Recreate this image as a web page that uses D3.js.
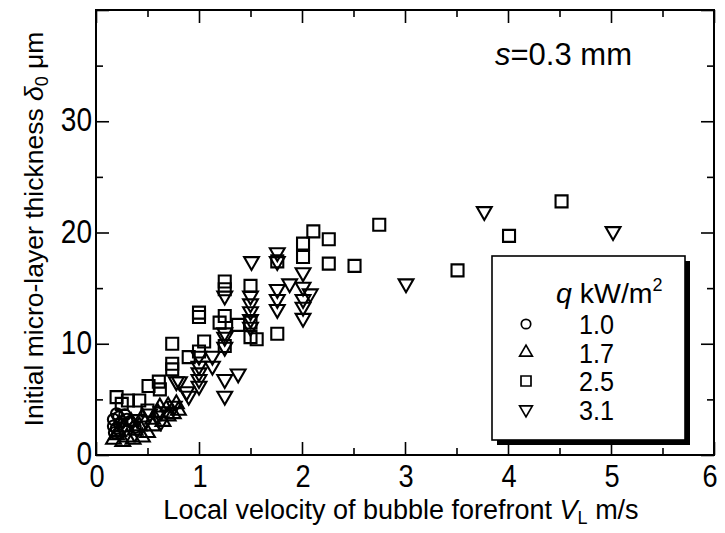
<!DOCTYPE html>
<html>
<head>
<meta charset="utf-8">
<script src="https://cdn.jsdelivr.net/npm/d3@7"></script>
<style>
  html, body { margin: 0; padding: 0; background: #fff; }
  svg { display: block; }
  text { font-family: "Liberation Sans", Arial, sans-serif; fill: #000; }
</style>
</head>
<body>
<svg id="chart" width="725" height="533"></svg>
<script>
// Heat flux series: local velocity of bubble forefront (m/s) vs initial micro-layer thickness (µm)
const q10_v = [0.17, 0.20, 0.22, 0.25, 0.17, 0.20, 0.28, 0.30, 0.18, 0.23, 0.33, 0.38];
const q10_d = [3.2, 3.7, 3.4, 3.0, 2.6, 2.4, 3.6, 3.2, 2.0, 2.8, 3.0, 2.5];

const q17_v = [0.17, 0.20, 0.22, 0.26, 0.30, 0.34, 0.38, 0.42, 0.45, 0.50, 0.55, 0.60, 0.65, 0.70, 0.75, 0.78, 0.80, 0.28, 0.36, 0.45, 0.55, 0.62, 0.70];
const q17_d = [1.4, 1.8, 2.1, 1.2, 1.6, 3.0, 2.2, 2.6, 3.4, 2.0, 3.2, 3.8, 3.0, 4.4, 3.7, 4.6, 4.0, 2.5, 1.4, 1.6, 2.6, 4.3, 3.5];

const q25_v = [0.20, 0.31, 0.42, 0.51, 0.61, 0.62, 0.74, 0.74, 0.74, 1.00, 1.00, 1.00, 1.05, 1.20, 1.25, 1.25, 1.25, 1.25, 1.38, 1.50, 1.50, 1.50, 1.56, 1.76, 1.76, 2.01, 2.01, 2.11, 2.26, 2.26, 2.51, 2.75, 3.51, 4.01, 4.52, 0.25, 0.50, 0.90];
const q25_d = [5.2, 4.9, 4.9, 6.2, 6.6, 5.9, 10.0, 8.2, 7.7, 12.8, 12.4, 9.3, 10.2, 11.9, 15.6, 14.9, 12.5, 9.8, 11.7, 15.2, 11.9, 10.6, 10.4, 17.4, 10.9, 19.0, 17.8, 20.1, 19.4, 17.2, 17.0, 20.7, 16.6, 19.7, 22.8, 4.6, 4.0, 8.8];

const q31_v = [0.52, 0.63, 0.63, 0.76, 0.78, 0.81, 0.88, 1.00, 1.00, 1.00, 1.00, 1.00, 1.13, 1.13, 1.25, 1.25, 1.25, 1.25, 1.25, 1.25, 1.38, 1.51, 1.50, 1.50, 1.50, 1.50, 1.50, 1.76, 1.76, 1.76, 1.76, 1.76, 1.88, 2.01, 2.01, 2.01, 2.01, 2.01, 2.08, 3.01, 3.77, 5.02, 0.40, 0.90];
const q31_d = [3.7, 3.9, 3.0, 4.4, 6.6, 6.6, 5.7, 8.9, 8.0, 7.4, 6.8, 6.2, 8.9, 8.0, 14.3, 11.0, 10.6, 9.7, 6.8, 5.3, 7.3, 17.4, 14.3, 13.6, 12.9, 12.2, 11.5, 18.2, 17.4, 14.9, 14.0, 13.1, 15.4, 16.4, 15.1, 14.0, 13.3, 12.3, 14.5, 15.4, 21.9, 20.1, 3.2, 5.3];

const legendLabels = ["1.0", "1.7", "2.5", "3.1"];
const xTicks = [0, 1, 2, 3, 4, 5, 6];
const yTicks = [0, 10, 20, 30];

const svg = d3.select("#chart");
const x = d3.scaleLinear().domain([0, 6]).range([96, 714]);
const y = d3.scaleLinear().domain([0, 40]).range([455, 10]);

const xMinor = d3.range(0, 6.01, 0.5);
const yMinor = d3.range(0, 40.1, 5);

// inward ticks on all four sides
function tickAxis(axisFn, scale, values, size, transform) {
  const g = svg.append("g").attr("transform", transform)
    .call(axisFn(scale).tickValues(values).tickSize(size).tickFormat(""));
  g.select(".domain").remove();
  g.selectAll("line").attr("stroke", "#000").attr("stroke-width", 1.6);
  return g;
}
const xMinorOnly = xMinor.filter(v => !Number.isInteger(v));
const yMinorOnly = yMinor.filter(v => v % 10 !== 0);
tickAxis(d3.axisBottom, x, xTicks, -13, `translate(0,${y(0)})`);
tickAxis(d3.axisBottom, x, xMinorOnly, -7, `translate(0,${y(0)})`);
tickAxis(d3.axisTop, x, xTicks, -13, `translate(0,${y(40)})`);
tickAxis(d3.axisTop, x, xMinorOnly, -7, `translate(0,${y(40)})`);
tickAxis(d3.axisLeft, y, [0, 10, 20, 30, 40], -13, `translate(${x(0)},0)`);
tickAxis(d3.axisLeft, y, yMinorOnly, -7, `translate(${x(0)},0)`);
tickAxis(d3.axisRight, y, [0, 10, 20, 30, 40], -13, `translate(${x(6)},0)`);
tickAxis(d3.axisRight, y, yMinorOnly, -7, `translate(${x(6)},0)`);

// frame
svg.append("rect")
  .attr("x", x(0)).attr("y", y(40))
  .attr("width", x(6) - x(0)).attr("height", y(0) - y(40))
  .attr("fill", "none").attr("stroke", "#000").attr("stroke-width", 2);

// tick labels (slightly condensed digits)
svg.append("g").selectAll("text").data(xTicks).join("text")
  .attr("transform", d => `translate(${x(d) + (d === 6 ? -4 : 1)},${y(0) + 32}) scale(0.85,1)`)
  .attr("text-anchor", "middle").attr("font-size", 32)
  .text(d => d);
svg.append("g").selectAll("text").data(yTicks).join("text")
  .attr("transform", d => `translate(${x(0) - 4},${y(d) + 10}) scale(0.85,1)`)
  .attr("text-anchor", "end").attr("font-size", 33)
  .text(d => d);

// axis titles
const xt = svg.append("text")
  .attr("x", 401).attr("y", 519)
  .attr("text-anchor", "middle").attr("font-size", 27);
xt.append("tspan").text("Local velocity of bubble forefront ");
xt.append("tspan").attr("font-style", "italic").text("V");
xt.append("tspan").attr("font-size", 18).attr("dy", 5).text("L");
xt.append("tspan").attr("dy", -5).text(" m/s");

const yt = svg.append("text")
  .attr("transform", "translate(43,229) rotate(-90)")
  .attr("text-anchor", "middle").attr("font-size", 26.5);
yt.append("tspan").text("Initial micro-layer thickness ");
yt.append("tspan").attr("font-style", "italic").text("δ");
yt.append("tspan").attr("font-size", 18).attr("dy", 5).text("0");
yt.append("tspan").attr("dy", -5).text(" μm");

// annotation
const ann = svg.append("text").attr("x", 495).attr("y", 65).attr("font-size", 31);
ann.append("tspan").attr("font-style", "italic").text("s");
ann.append("tspan").text("=0.3 mm");

// marker shapes
const shapes = {
  circle: d3.symbol().type(d3.symbolCircle),
  up: d3.symbol().type(d3.symbolTriangle),
  square: d3.symbol().type(d3.symbolSquare),
  down: d3.symbol().type(d3.symbolTriangle)
};
const series = [
  { v: q10_v, d: q10_d, shape: "circle", size: 100 },
  { v: q17_v, d: q17_d, shape: "up", size: 95 },
  { v: q25_v, d: q25_d, shape: "square", size: 144 },
  { v: q31_v, d: q31_d, shape: "down", size: 95 }
];
function drawSymbol(g, shape, size, cx, cy, sw) {
  g.append("path")
    .attr("d", shapes[shape].size(size)())
    .attr("transform", `translate(${cx},${cy})` + (shape === "down" ? " rotate(180)" : ""))
    .attr("fill", "none").attr("stroke", "#000").attr("stroke-width", sw);
}
const marks = svg.append("g");
series.forEach(s => {
  s.v.forEach((v, i) => drawSymbol(marks, s.shape, s.size, x(v), y(s.d[i]), 2.1));
});

// legend
const lg = svg.append("g");
lg.append("rect").attr("x", 497).attr("y", 261).attr("width", 193).attr("height", 184).attr("fill", "#000");
lg.append("rect").attr("x", 492).attr("y", 256).attr("width", 193).attr("height", 184)
  .attr("fill", "#fff").attr("stroke", "#000").attr("stroke-width", 1.6);
const lh = lg.append("text").attr("x", 556).attr("y", 303).attr("font-size", 28.5);
lh.append("tspan").attr("font-style", "italic").text("q");
lh.append("tspan").text(" kW/m");
lh.append("tspan").attr("font-size", 18).attr("dy", -12).text("2");
legendLabels.forEach((lab, i) => {
  const cy = 324 + i * 28.5;
  drawSymbol(lg, series[i].shape, series[i].shape === "square" ? 100 : 70, 526, cy, 1.7);
  lg.append("text").attr("transform", `translate(579,${cy + 10}) scale(0.9,1)`)
    .attr("font-size", 28).text(lab);
});
</script>
</body>
</html>
